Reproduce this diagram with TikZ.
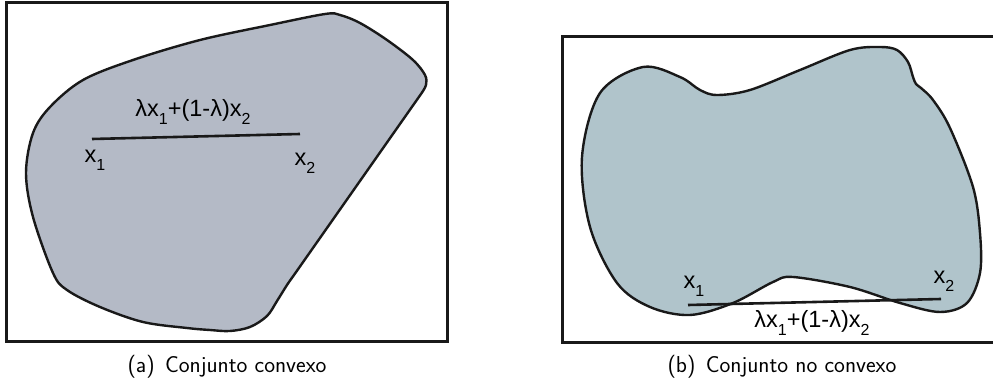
\documentclass[tikz,border=0pt]{standalone}
\usepackage{fontspec}
\newfontfamily\lblfont{Liberation Sans}
\newcommand{\sbx}[1]{\raisebox{-0.33em}{\fontsize{16}{18}\selectfont #1}}
\begin{document}
\begin{tikzpicture}[x=1pt,y=-1pt,
  frame/.style={draw=black!90,line width=3pt},
  blob/.style={draw=black!90,line width=2.4pt},
  seg/.style={draw=black!90,line width=2.6pt},
  lbl/.style={font=\lblfont\fontsize{23.5}{26}\selectfont,inner sep=0pt},
  captxt/.style={font=\sffamily\fontsize{23}{26}\selectfont,inner sep=0pt}]
\definecolor{fillA}{RGB}{180,186,198}
\definecolor{fillB}{RGB}{176,196,203}
\useasboundingbox (0,0) rectangle (993,385);
% left panel
\draw[frame] (6,3) rectangle (447,341);
\draw[blob,fill=fillA] plot[smooth,tension=0.55] coordinates {
 (294,275) (287,285) (277,301) (267,316) (250,327) (230,331) (210,330) (187,328)
 (143,322) (100,307) (67,290) (53,273) (33,217) (26,173) (33,133) (50,107) (83,80)
 (133,60) (200,40) (270,25) (325,14) (340,15) (360,23) (387,40) (413,60) (425,75)
 (426,85) (421,94)} -- cycle;
\coordinate (a1) at (92,139);
\coordinate (a2) at (300,134);
\draw[seg] (a1) -- (a2);
\node[lbl] (la) at (193,112) {λx\sbx{1}+(1-λ)x\sbx{2}};
\node[lbl] (la1) at (95,160) {x\sbx{1}};
\node[lbl] (la2) at (305,163) {x\sbx{2}};
\node[captxt] (capa) at (227,367) {(a)\hspace{0.45em}Conjunto convexo};
% right panel
\draw[frame] (562,37) rectangle (1000,342);
\draw[blob,fill=fillB] plot[smooth cycle,tension=0.55] coordinates {
 (582,157) (600,93) (643,67) (680,77) (700,90) (717,95) (750,90) (800,70) (850,50)
 (880,47) (897,50) (908,62) (913,77) (916,84) (921,88) (933,100) (950,128) (973,187)
 (980,233) (980,273) (967,303) (940,312) (900,303) (850,287) (793,277) (773,282)
 (733,303) (690,315) (650,307) (617,283) (590,227)};
\coordinate (b1) at (688,305);
\coordinate (b2) at (941,299);
\draw[seg] (b1) -- (b2);
\node[lbl] (lb) at (812,323) {λx\sbx{1}+(1-λ)x\sbx{2}};
\node[lbl] (lb1) at (694,286) {x\sbx{1}};
\node[lbl] (lb2) at (944,281) {x\sbx{2}};
\node[captxt] (capb) at (782,367) {(b)\hspace{0.45em}Conjunto no convexo};
\end{tikzpicture}
\end{document}
